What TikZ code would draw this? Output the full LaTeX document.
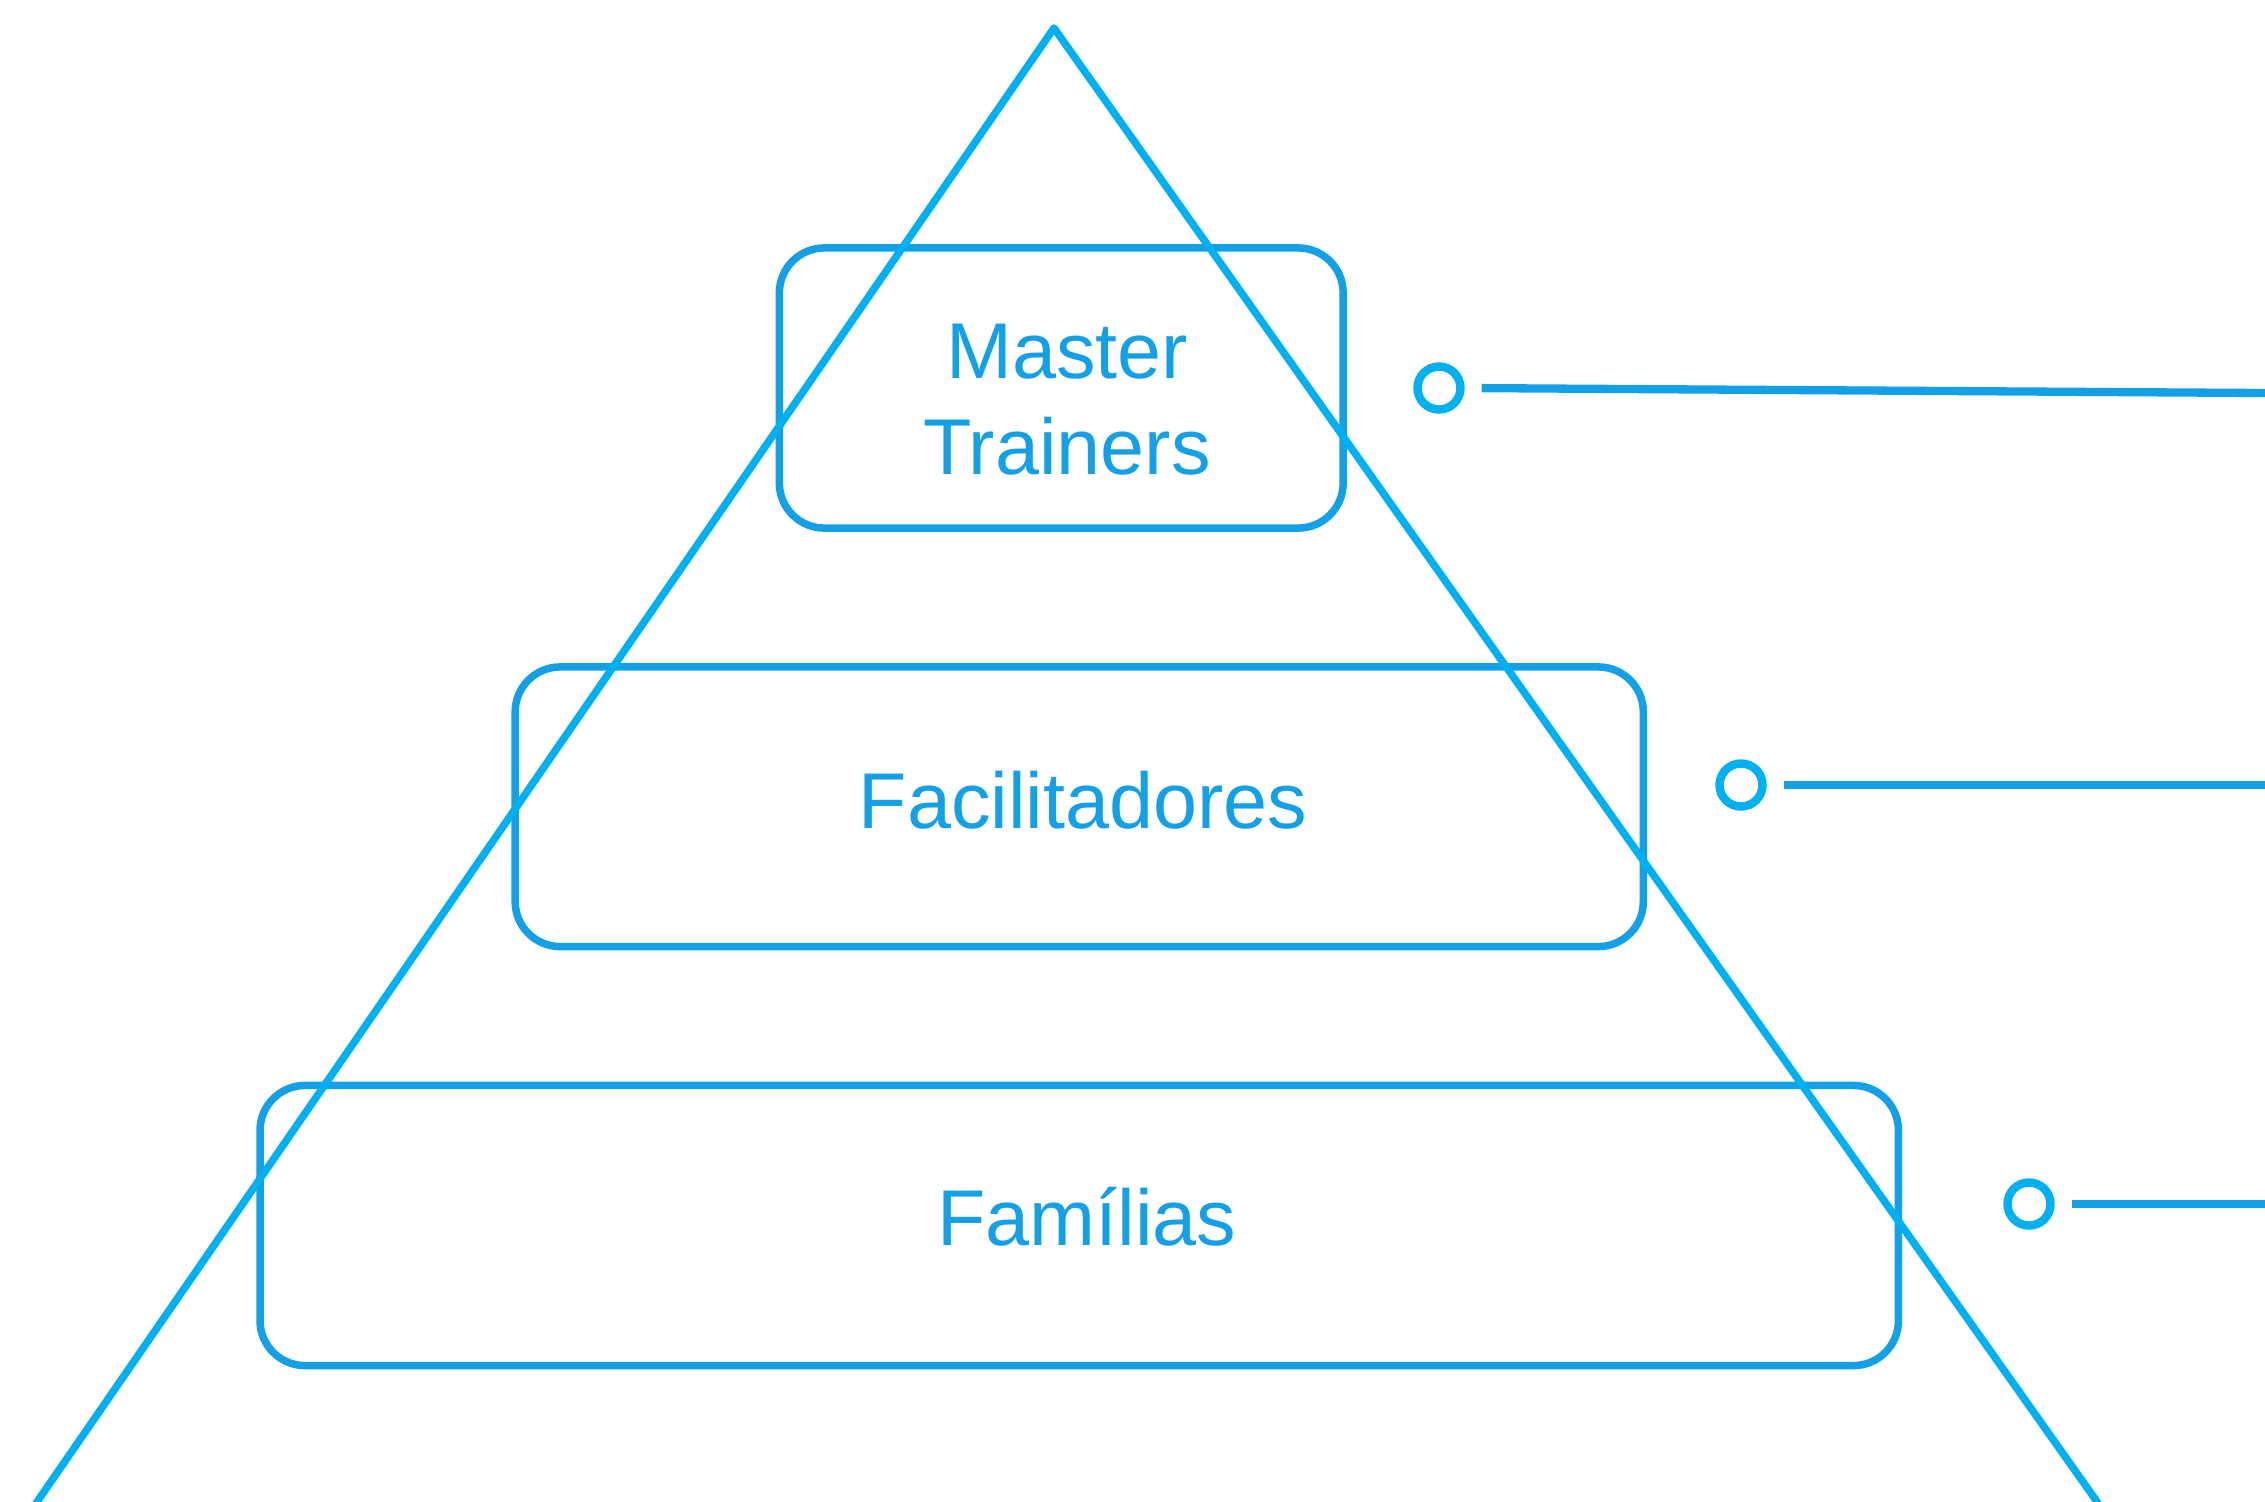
\documentclass[tikz,border=0pt]{standalone}
\usepackage{fontspec}
\setmainfont{Liberation Sans}
\definecolor{tri}{HTML}{00B0F0}
\definecolor{boxc}{HTML}{14A0E6}
\begin{document}
\begin{tikzpicture}[x=0.01cm, y=-0.01cm,
  tier/.style={draw=boxc, line width=0.075cm, rounded corners=0.45cm, rectangle, inner sep=0pt, minimum height=2.8cm},
  tiertext/.style={text=boxc, font=\fontsize{22.5}{27.3}\selectfont, align=center, inner sep=0pt, anchor=base},
  ring/.style={draw=tri, line width=0.084cm, circle, inner sep=0pt, minimum size=0.43cm},
  conn/.style={draw=boxc, line width=0.083cm, shorten <=0.17cm},
  side/.style={draw=tri, line width=0.075cm, line join=round}
]
\useasboundingbox (0,0) rectangle (2265,1502);
\clip (0,0) rectangle (2265,1502);
\fill[white] (0,0) rectangle (2265,1502);

% tiers
\node[tier, minimum width=5.635cm] (b1) at (1061.25,388) {};
\node[tier, minimum width=11.275cm, minimum height=2.795cm] (b2) at (1079.25,806.75) {};
\node[tier, minimum width=16.375cm] (b3) at (1079.25,1225.5) {};

% pyramid sides
\coordinate (apex) at (1054,28);
\coordinate (bl) at (24.5,1520);
\coordinate (br) at (2110,1520);
\draw[side] (bl) -- (apex) -- (br);

% rings and lines
\node[ring] (c1) at (1439,388) {};
\node[ring] (c2) at (1741,785) {};
\node[ring] (c3) at (2029,1204) {};
\coordinate (e1) at (2280,393.1);
\coordinate (e2) at (2280,785);
\coordinate (e3) at (2280,1204);
\draw[conn] (c1.east) -- (e1);
\draw[conn] (c2.east) -- (e2);
\draw[conn] (c3.east) -- (e3);

% texts
\node[tiertext] (t1) at (1067,474) {Master\\Trainers};
\node[tiertext] (t2) at (1083,828) {Facilitadores};
\node[tiertext] (t3) at (1087,1245) {Famílias};
\end{tikzpicture}
\end{document}
